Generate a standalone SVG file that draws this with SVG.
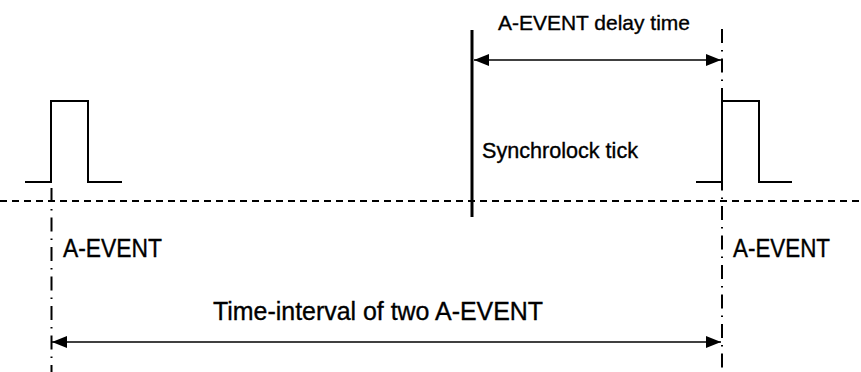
<svg xmlns="http://www.w3.org/2000/svg" width="861" height="372" viewBox="0 0 861 372">
  <style>
    .pulse { fill: none; stroke: #000; stroke-width: 2; }
    .axis { fill: none; stroke: #000; stroke-width: 2; stroke-dasharray: 7 5; }
    .mark { fill: none; stroke: #000; stroke-width: 2; stroke-dasharray: 14 7 1.5 7; }
    .tick { fill: none; stroke: #000; stroke-width: 3; }
    .dim { fill: none; stroke: #000; stroke-width: 1.6; }
    .lbl { font-family: "Liberation Sans", Arial, sans-serif; fill: #000; stroke: #000; stroke-width: 0.35; }
  </style>
  <defs>
    <marker id="arrowEnd" viewBox="0 0 15 12" refX="15" refY="6" markerWidth="15" markerHeight="12" markerUnits="userSpaceOnUse" orient="auto">
      <path d="M0,0 L15,6 L0,12 Z" fill="#000"/>
    </marker>
    <marker id="arrowStart" viewBox="0 0 15 12" refX="0" refY="6" markerWidth="15" markerHeight="12" markerUnits="userSpaceOnUse" orient="auto">
      <path d="M15,0 L0,6 L15,12 Z" fill="#000"/>
    </marker>
  </defs>

  <!-- time axis -->
  <g id="time-axis">
    <line class="axis" x1="0" y1="201" x2="861" y2="201"/>
  </g>

  <!-- first A-EVENT pulse and its marker line -->
  <g id="event-left">
    <path class="pulse" d="M25,182 H51 V101 H88 V182 H122"/>
    <line class="mark" x1="51.5" y1="188" x2="51.5" y2="372"/>
    <text class="lbl" x="63" y="257" font-size="25" textLength="99" lengthAdjust="spacingAndGlyphs">A-EVENT</text>
  </g>

  <!-- second A-EVENT pulse and its marker line -->
  <g id="event-right">
    <path class="pulse" d="M696,182 H722 V101 H759 V182 H792"/>
    <line class="mark" x1="722" y1="29" x2="722" y2="372"/>
    <text class="lbl" x="733" y="257" font-size="25" textLength="97" lengthAdjust="spacingAndGlyphs">A-EVENT</text>
  </g>

  <!-- synchrolock tick -->
  <g id="sync-tick">
    <line class="tick" x1="472" y1="30" x2="472" y2="217"/>
    <text class="lbl" x="482" y="158" font-size="22" textLength="156" lengthAdjust="spacingAndGlyphs">Synchrolock tick</text>
  </g>

  <!-- dimension arrows -->
  <g id="connectors">
    <line class="dim" x1="474" y1="60" x2="721" y2="60" marker-start="url(#arrowStart)" marker-end="url(#arrowEnd)"/>
    <line class="dim" x1="52" y1="342" x2="721" y2="342" marker-start="url(#arrowStart)" marker-end="url(#arrowEnd)"/>
  </g>

  <g id="dimension-labels">
    <text class="lbl" x="498" y="30" font-size="21" textLength="192" lengthAdjust="spacingAndGlyphs">A-EVENT delay time</text>
    <text class="lbl" x="213" y="320" font-size="25" textLength="330" lengthAdjust="spacingAndGlyphs">Time-interval of two A-EVENT</text>
  </g>
</svg>
